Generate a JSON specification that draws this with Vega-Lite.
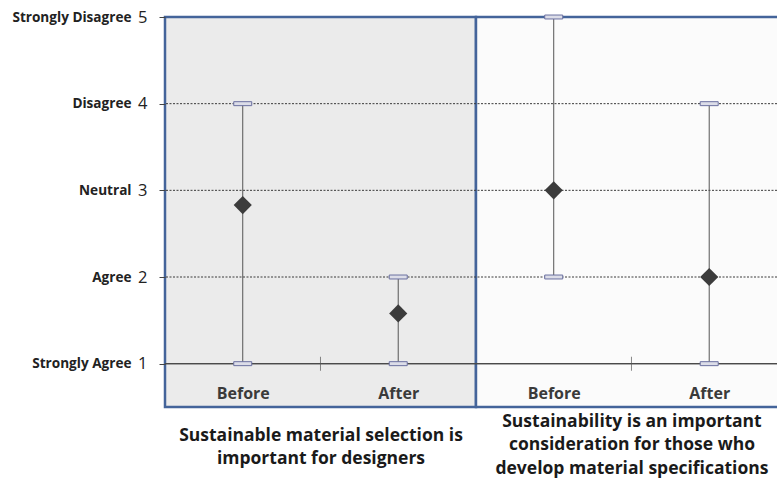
{
  "$schema": "https://vega.github.io/schema/vega-lite/v6.json",
  "width": 612,
  "height": 390,
  "autosize": {"type": "none"},
  "padding": {"left": 165, "top": 17, "right": 0, "bottom": 81},
  "background": "white",
  "config": {"view": {"stroke": null}, "font": "Open Sans"},
  "datasets": {
    "panels": [
      {"panel": "designers", "start": 0, "end": 2},
      {"panel": "specs", "start": 2, "end": 4}
    ],
    "stats": [
      {"panel": "designers", "period": "Before", "pos": 0.5, "mean": 2.83, "low": 1, "high": 4},
      {"panel": "designers", "period": "After", "pos": 1.5, "mean": 1.58, "low": 1, "high": 2},
      {"panel": "specs", "period": "Before", "pos": 2.5, "mean": 3, "low": 2, "high": 5},
      {"panel": "specs", "period": "After", "pos": 3.5, "mean": 2, "low": 1, "high": 4}
    ],
    "grid": [{"level": 2}, {"level": 3}, {"level": 4}],
    "dividers": [{"b": 1}, {"b": 3}]
  },
  "resolve": {
    "scale": {"x": "shared", "y": "shared"},
    "axis": {"x": "independent", "y": "independent"}
  },
  "layer": [
    {
      "data": {"name": "panels"},
      "mark": {"type": "rect", "stroke": "#44649a", "strokeWidth": 2.5},
      "encoding": {
        "x": {
          "field": "start", "type": "quantitative",
          "scale": {"domain": [0, 3.936], "nice": false, "zero": false},
          "axis": {
            "orient": "bottom", "values": [0.5, 1.5, 2.5, 3.5],
            "labelExpr": "datum.value % 2 < 1 ? 'Before' : 'After'",
            "domain": false, "ticks": false, "tickSize": 0, "grid": false,
            "labelPadding": -14, "labelBaseline": "middle", "zindex": 2,
            "labelFontSize": 16, "labelFontWeight": "bold", "labelColor": "#3a3a3a",
            "labelFlush": false, "labelOverlap": false, "labelBound": false, "title": null
          }
        },
        "x2": {"field": "end"},
        "y": {
          "datum": 0.5, "type": "quantitative",
          "scale": {"domain": [0.5, 5], "nice": false, "zero": false},
          "axis": {
            "orient": "left", "values": [1, 2, 3, 4, 5],
            "domain": false, "ticks": true, "tickSize": 6, "tickColor": "#444", "grid": false,
            "labelPadding": 12, "labelBaseline": "middle", "zindex": 2,
            "labelFontSize": 16.5, "labelColor": "#222", "labelFontWeight": "normal",
            "title": null
          }
        },
        "y2": {"datum": 5},
        "fill": {
          "field": "panel", "type": "nominal",
          "scale": {"domain": ["designers", "specs"], "range": ["#ebebeb", "#fbfbfb"]},
          "legend": null
        }
      }
    },
    {
      "data": {"name": "grid"},
      "mark": {"type": "rule", "color": "#3a3a3a", "strokeWidth": 1, "strokeDash": [2, 1.5]},
      "encoding": {
        "y": {
          "field": "level", "type": "quantitative",
          "axis": {
            "orient": "left", "values": [1, 2, 3, 4, 5],
            "labelExpr": "['', 'Strongly Agree', 'Agree', 'Neutral', 'Disagree', 'Strongly Disagree'][datum.value]",
            "domain": false, "ticks": false, "tickSize": 0, "grid": false,
            "labelPadding": 34, "labelBaseline": "middle", "zindex": 2,
            "labelFontSize": 13.6, "labelFontWeight": "bold", "labelColor": "#222",
            "labelLimit": 300, "title": null
          }
        }
      }
    },
    {
      "data": {"name": "dividers"},
      "mark": {"type": "rule", "color": "#4a4a4a", "strokeWidth": 1.3},
      "encoding": {
        "y": {"datum": 1, "type": "quantitative", "axis": null}
      }
    },
    {
      "data": {"name": "dividers"},
      "mark": {"type": "tick", "orient": "vertical", "size": 14, "thickness": 1, "color": "#555"},
      "encoding": {
        "x": {
          "field": "b", "type": "quantitative",
          "axis": {
            "orient": "bottom", "values": [1],
            "labelExpr": "['Sustainable material selection is', 'important for designers']",
            "domain": false, "ticks": false, "tickSize": 0, "grid": false,
            "labelPadding": 28, "labelBaseline": "middle", "labelLineHeight": 23.5,
            "labelFontSize": 17.5, "labelFontWeight": "bold", "labelColor": "#1a1a1a",
            "labelLimit": 400, "zindex": 2,
            "labelFlush": false, "labelOverlap": false, "labelBound": false, "title": null
          }
        },
        "y": {"datum": 1, "type": "quantitative", "axis": null}
      }
    },
    {
      "data": {"name": "stats"},
      "mark": {"type": "rule", "color": "#555", "strokeWidth": 1},
      "encoding": {
        "x": {
          "field": "pos", "type": "quantitative",
          "axis": {
            "orient": "bottom", "values": [3],
            "labelExpr": "['Sustainability is an important', 'consideration for those who', 'develop material specifications']",
            "domain": false, "ticks": false, "tickSize": 0, "grid": false,
            "labelPadding": 14, "labelBaseline": "middle", "labelLineHeight": 23.5,
            "labelFontSize": 17.5, "labelFontWeight": "bold", "labelColor": "#1a1a1a",
            "labelLimit": 400, "zindex": 2,
            "labelFlush": false, "labelOverlap": false, "labelBound": false, "title": null
          }
        },
        "y": {"field": "low", "type": "quantitative", "axis": null},
        "y2": {"field": "high"}
      }
    },
    {
      "data": {"name": "stats"},
      "mark": {"type": "point", "shape": "M-1,-0.22L1,-0.22L1,0.22L-1,0.22Z", "size": 324, "filled": true, "fill": "#dcdde8", "stroke": "#6b70a0", "strokeWidth": 1, "opacity": 1},
      "encoding": {
        "x": {"field": "pos", "type": "quantitative", "axis": null},
        "y": {"field": "low", "type": "quantitative", "axis": null}
      }
    },
    {
      "data": {"name": "stats"},
      "mark": {"type": "point", "shape": "M-1,-0.22L1,-0.22L1,0.22L-1,0.22Z", "size": 324, "filled": true, "fill": "#dcdde8", "stroke": "#6b70a0", "strokeWidth": 1, "opacity": 1},
      "encoding": {
        "x": {"field": "pos", "type": "quantitative", "axis": null},
        "y": {"field": "high", "type": "quantitative", "axis": null}
      }
    },
    {
      "data": {"name": "stats"},
      "mark": {"type": "point", "shape": "diamond", "size": 330, "filled": true, "color": "#3c3c3c", "opacity": 1},
      "encoding": {
        "x": {"field": "pos", "type": "quantitative", "axis": null},
        "y": {"field": "mean", "type": "quantitative", "axis": null}
      }
    }
  ]
}
